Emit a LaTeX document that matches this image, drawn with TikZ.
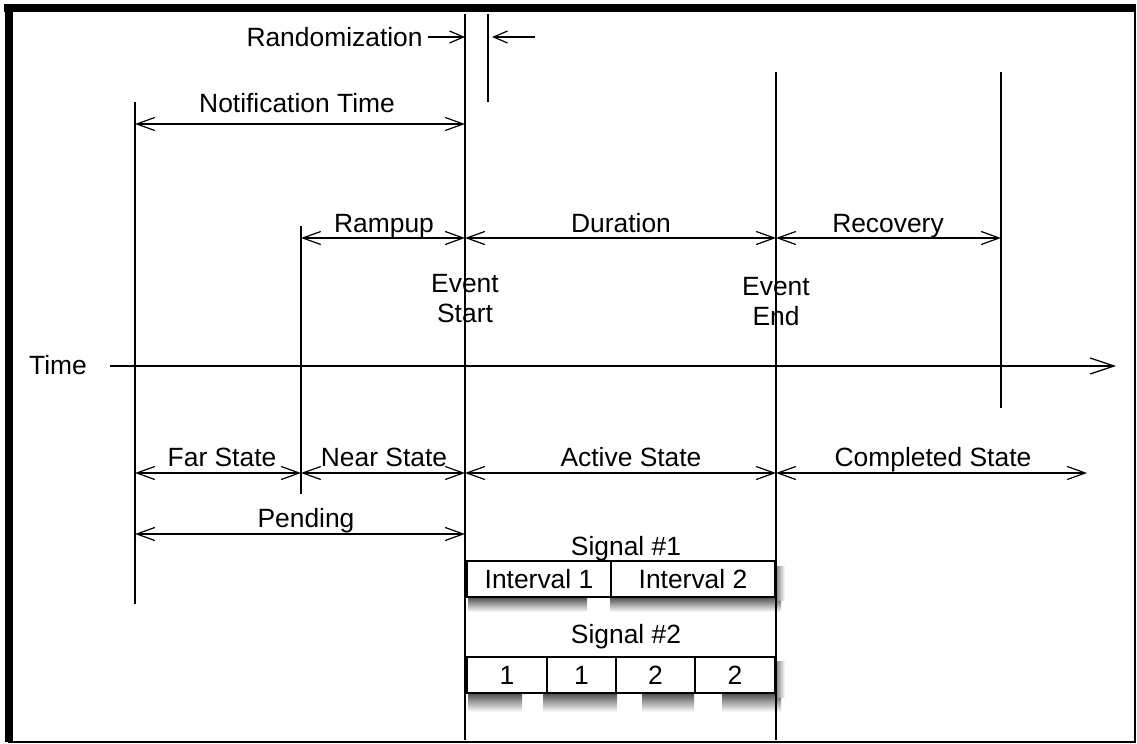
\documentclass[tikz,border=0pt]{standalone}
\usepackage{fontspec}
\setmainfont{Liberation Sans}
\usetikzlibrary{arrows.meta}
\begin{document}
\begin{tikzpicture}[x=0.5pt,y=-0.5pt,
  every node/.style={font=\fontsize{13.2}{15}\selectfont, inner sep=0pt},
  lbl/.style={text height=9.4pt, text depth=0pt},
  vline/.style={line width=0.75pt},
  dim/.style={line width=0.75pt, {Straight Barb[length=9pt,width=6.5pt,line width=0.6pt]}-{Straight Barb[length=9pt,width=6.5pt,line width=0.6pt]}},
  onearrow/.style={line width=0.75pt, -{Straight Barb[length=7pt,width=6pt,line width=0.6pt]}},
  cell/.style={draw, line width=0.8pt, fill=white, minimum height=18pt, text height=9.4pt, text depth=0pt},
  shadowdown/.style={top color=black!70, bottom color=white, draw=none},
  shadowright/.style={left color=black!55, right color=white, draw=none}
]
\useasboundingbox (0,0) rectangle (1137,744);

% frame
\draw[line width=0.7pt] (9,8) rectangle (1135,742);
\fill[black] (4,4) rectangle (1136,12);
\fill[black] (5,4) rectangle (13,742);

% drop shadows of the signal bars (drawn first, below everything)
\shade[shadowdown] (468,597) rectangle (587,612);
\shade[shadowdown] (610,597) rectangle (781,612);
\shade[shadowright] (775,566) rectangle (785,600);
\shade[shadowdown] (468,693) rectangle (522,712);
\shade[shadowdown] (543,693) rectangle (617,712);
\shade[shadowdown] (642,693) rectangle (694,712);
\shade[shadowdown] (722,693) rectangle (781,712);
\shade[shadowright] (775,661) rectangle (785,697);

% vertical time markers
\coordinate (ntTop) at (135,102);  \coordinate (ntBot) at (135,604);
\coordinate (rpTop) at (301,226);  \coordinate (rpBot) at (301,494);
\coordinate (esTop) at (465,14);   \coordinate (esBot) at (465,740);
\coordinate (rzTop) at (488,14);   \coordinate (rzBot) at (488,102);
\coordinate (eeTop) at (776,72);   \coordinate (eeBot) at (776,740);
\coordinate (rcTop) at (1001,72);  \coordinate (rcBot) at (1001,408);
\draw[vline] (ntTop) -- (ntBot);
\draw[vline] (rpTop) -- (rpBot);
\draw[vline] (esTop) -- (esBot);
\draw[vline] (rzTop) -- (rzBot);
\draw[vline] (eeTop) -- (eeBot);
\draw[vline] (rcTop) -- (rcBot);

% time axis
\node[lbl] (time) at (58,365) {Time};
\coordinate (axStart) at (110,366);
\coordinate (axEnd) at (1116,366);
\draw[line width=0.75pt, -{Straight Barb[length=12pt,width=8pt,line width=0.6pt]}] (axStart) -- (axEnd);

% randomization window
\node[lbl, anchor=east] (rand) at (423,37) {Randomization};
\coordinate (randA) at (428,37);
\coordinate (randB) at (535,37);
\draw[onearrow] (randA) -- (esTop |- randA);
\draw[onearrow] (randB) -- ([xshift=2pt]rzTop |- randB);

% spans above the axis
\node[lbl] (notif) at (297,103) {Notification Time};
\draw[dim] (ntTop |- 0,124) -- (esTop |- 0,124);

\node[lbl] (rampup) at (384,223) {Rampup};
\node[lbl] (duration) at (621,223) {Duration};
\node[lbl] (recovery) at (888,223) {Recovery};
\draw[dim] (rpTop |- 0,238) -- (esTop |- 0,238);
\draw[dim] (esTop |- 0,238) -- (eeTop |- 0,238);
\draw[dim] (eeTop |- 0,238) -- (rcTop |- 0,238);

\node[align=center] (evStart) at (465,299) {Event\\Start};
\node[align=center] (evEnd) at (776,302) {Event\\End};

% states below the axis
\node[lbl] (far) at (222,457) {Far State};
\node[lbl] (near) at (384,457) {Near State};
\node[lbl] (active) at (631,457) {Active State};
\node[lbl] (completed) at (933,457) {Completed State};
\coordinate (compEnd) at (1087,473);
\draw[dim] (ntTop |- 0,473) -- (rpTop |- 0,473);
\draw[dim] (rpTop |- 0,473) -- (esTop |- 0,473);
\draw[dim] (esTop |- 0,473) -- (eeTop |- 0,473);
\draw[dim] (eeTop |- 0,473) -- (compEnd);

\node[lbl] (pending) at (306,518) {Pending};
\draw[dim] (ntTop |- 0,534) -- (esTop |- 0,534);

% signal 1
\node[lbl] (sig1) at (626,546) {Signal \#1};
\node[cell, minimum width=72pt] (iv1) at (539,579) {Interval 1};
\node[cell, minimum width=82pt] (iv2) at (693,579) {Interval 2};

% signal 2
\node[lbl] (sig2) at (626,634) {Signal \#2};
\node[cell, minimum width=40pt] (s1) at (507,675) {1};
\node[cell, minimum width=34.5pt] (s2) at (581.5,675) {1};
\node[cell, minimum width=39.5pt] (s3) at (655.5,675) {2};
\node[cell, minimum width=40pt] (s4) at (735,675) {2};
\end{tikzpicture}
\end{document}
